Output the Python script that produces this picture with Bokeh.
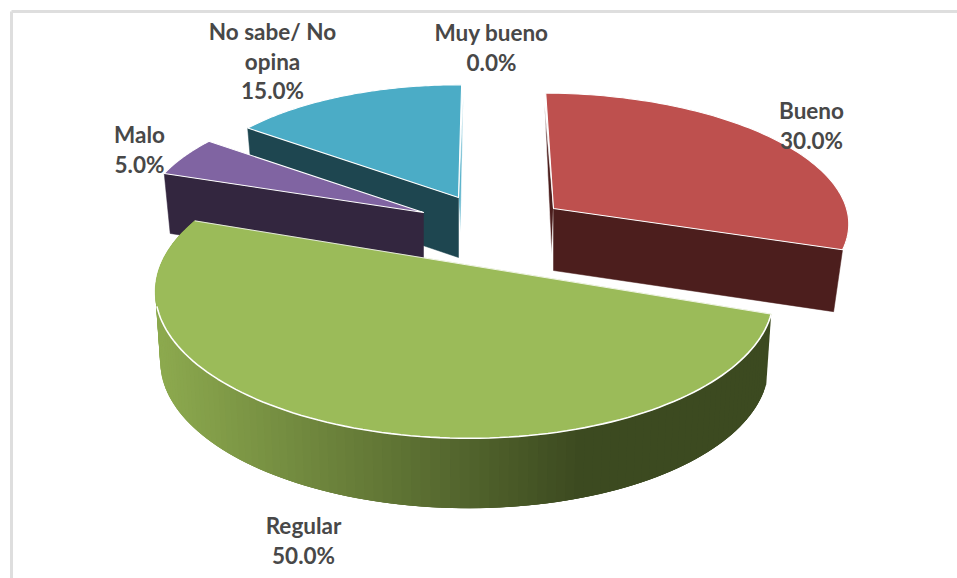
import numpy as np
from bokeh.plotting import figure
from bokeh.models import Range1d
from bokeh.core.properties import value
from bokeh.embed import file_html
from bokeh.resources import INLINE

# ---- data
categories = ["Muy bueno", "Bueno", "Regular", "Malo", "No sabe/ No opina"]
label_lines = [["Muy bueno"], ["Bueno"], ["Regular"], ["Malo"], ["No sabe/ No", "opina"]]
percent = [0.0, 30.0, 50.0, 5.0, 15.0]

# ---- styles and layout
top_colors = ["#F79646", "#BE504E", "#9BBB59", "#8064A2", "#4BACC6"]
wall_colors = ["#7F4A1E", "#4C1E1D", "#3F4D22", "#33263F", "#1E4650"]
start_deg = 0.7
# apex x, apex y, A, B, perspective, depth, rim shrink, x shear, y shear per slice
geom = [
    (490, 190, 280, 122, 0.083, 60, 0.975, 0, 0),
    (553, 208, 293, 125, 0.083, 62, 0.969, 12, 0),
    (464, 264, 303, 139, 0.200, 70, 0.984, 0, 2),
    (423, 212, 281, 125, 0.083, 60, 0.977, 0, 0),
    (458, 197, 276, 122, 0.083, 60, 0.975, 0, 0),
]
label_pos = [(491, 32), (811, 110), (303, 525), (139, 134), (272, 31)]
line_h = 29.5

p = figure(width=957, height=578, x_range=Range1d(0, 957), y_range=Range1d(578, 0),
           output_backend="svg", toolbar_location=None, min_border=0,
           outline_line_color=None, background_fill_color="white")
p.axis.visible = False
p.grid.visible = False

# chart frame
p.segment([11, 11], [11, 11], [957, 11], [11, 578], line_color="#DEDEDE", line_width=3)


def project(g, theta):
    cx, cy, A, B, k, _, _, h, w = g
    u, v = np.sin(theta), -np.cos(theta)
    s = 1.0 / (1.0 - k * v)
    return cx + (A * u + h * v) * s, cy + (B * v + w * u) * s


def lower(g, x, y):
    cx, D, shrink = g[0], g[5], g[6]
    return cx + (np.asarray(x) - cx) * shrink, np.asarray(y) + D


def lerp_hex(a, b, t):
    ca = [int(a[i:i + 2], 16) for i in (1, 3, 5)]
    cb = [int(b[i:i + 2], 16) for i in (1, 3, 5)]
    return "#%02x%02x%02x" % tuple(int(round(m + (n - m) * t)) for m, n in zip(ca, cb))


# angular extents from the values
angles = {}
acc = 0.0
for i, val in enumerate(percent):
    a0 = np.radians(start_deg + acc * 3.6)
    a1 = np.radians(start_deg + (acc + val) * 3.6)
    angles[i] = (a0, a1)
    acc += val


def cut_wall(i, theta):
    g = geom[i]
    rx, ry = project(g, theta)
    cx, cy = g[0], g[1]
    bx, by = lower(g, [rx, cx], [ry, cy])
    return [rx, cx, bx[1], bx[0]], [ry, cy, by[1], by[0]]


# back to front: walls and tops
order = [4, 3, 1]
for i in order:
    if percent[i] == 0:
        continue
    g = geom[i]
    a0, a1 = angles[i]
    rx, ry = project(g, a0 if i == 1 else a1)
    cx, cy = g[0], g[1]
    if i in (1, 4):
        tip = 0.1
        frac = 0.75 if i == 1 else 0.6
        off = -2 if i == 1 else 2
        sx = [rx + (cx - rx) * tip + off, cx, cx + off]
        sy = [ry + (cy - ry) * tip, cy, cy + frac * g[5]]
        col = wall_colors[i] if i == 1 else "#5DB4CC"
        p.patch(sx, sy, fill_color=col, line_color="white", line_width=0.6)
    wx, wy = cut_wall(i, a1 if i == 1 else a0)
    p.patch(wx, wy, fill_color=wall_colors[i], line_color=wall_colors[i], line_width=0.5)
    th = np.linspace(a0, a1, 80)
    ax, ay = project(g, th)
    xs = np.concatenate([[cx], ax])
    ys = np.concatenate([[cy], ay])
    p.patch(xs, ys, fill_color=top_colors[i], line_color="white", line_width=1.1, line_join="round")

# Regular, front wedge with shaded rim
i = 2
g = geom[i]
a0, a1 = angles[i]
th = np.linspace(a0, a1, 121)
ax, ay = project(g, th)
bx, by = lower(g, ax, ay)
rim_left, rim_mid = "#8CA94E", "#3C4A20"
for j in range(len(th) - 1):
    xm = 0.5 * (ax[j] + ax[j + 1])
    t = min(1.0, max(0.0, (xm - 160) / 420))
    c = lerp_hex(rim_left, rim_mid, t)
    e = min(j + 3, len(th) - 1)
    p.patch([ax[j], ax[e], bx[e], bx[j]], [ay[j], ay[e], by[e], by[j]],
            fill_color=c, line_color=None)
xs = np.concatenate([[g[0]], ax])
ys = np.concatenate([[g[1]], ay])
p.patch(xs, ys, fill_color=top_colors[i], line_color=top_colors[i], line_width=0.5)
vis = ay > 305
p.line(ax[vis], ay[vis], line_color="white", line_width=1.6)
p.line([ax[0], ax[-1]], [ay[0], ay[-1]], line_color="white", line_width=0.8)

# labels
for lines, val, (lx, ly) in zip(label_lines, percent, label_pos):
    rows = lines + [f"{val:.1f}%"]
    p.text([lx] * len(rows), [ly + n * line_h for n in range(len(rows))], text=rows,
           text_font=value("Lato"), text_font_style="bold", text_font_size="22.5px",
           text_color="#484848", text_align="center", text_baseline="middle")

open("out.html", "w").write(file_html(p, INLINE))
